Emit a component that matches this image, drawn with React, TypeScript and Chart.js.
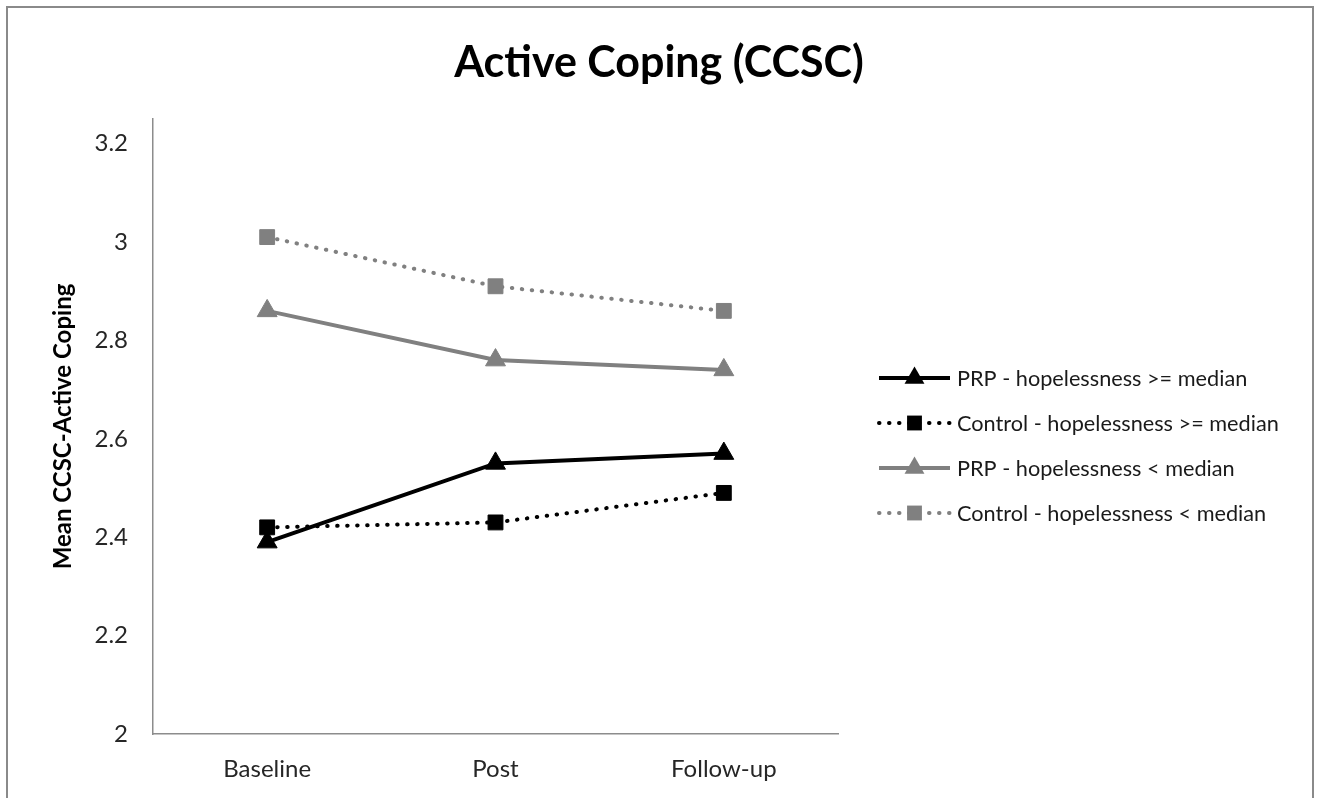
import React, { useEffect, useRef } from "react";
import { Chart, registerables } from "chart.js";

Chart.register(...registerables);

const categories = ["Baseline", "Post", "Follow-up"];
const prpHigh = [2.39, 2.55, 2.57];
const controlHigh = [2.42, 2.43, 2.49];
const prpLow = [2.86, 2.76, 2.74];
const controlLow = [3.01, 2.91, 2.86];
const seriesLabels = [
  "PRP - hopelessness >= median",
  "Control - hopelessness >= median",
  "PRP - hopelessness < median",
  "Control - hopelessness < median",
];
const yTickValues = [2, 2.2, 2.4, 2.6, 2.8, 3, 3.2];
const chartTitle = "Active Coping (CCSC)";
const yAxisTitle = "Mean CCSC-Active Coping";

const FONT = "Lato, 'Open Sans', sans-serif";
const BLACK = "#000000";
const GRAY = "#808080";

function drawMarker(ctx: CanvasRenderingContext2D, style: string, x: number, y: number, r: number, color: string) {
  ctx.fillStyle = color;
  ctx.beginPath();
  if (style === "triangle") {
    ctx.moveTo(x, y - r);
    ctx.lineTo(x + r * Math.sin((2 * Math.PI) / 3), y + r / 2);
    ctx.lineTo(x - r * Math.sin((2 * Math.PI) / 3), y + r / 2);
    ctx.closePath();
  } else {
    const s = r * Math.SQRT1_2;
    ctx.rect(x - s, y - s, 2 * s, 2 * s);
  }
  ctx.fill();
}

const sideLegendAndTitle = {
  id: "sideLegendAndTitle",
  afterDraw(chart: any) {
    const ctx: CanvasRenderingContext2D = chart.ctx;
    // title
    ctx.save();
    ctx.fillStyle = "#000";
    ctx.font = `bold 43px ${FONT}`;
    ctx.textAlign = "center";
    ctx.textBaseline = "middle";
    ctx.fillText(chartTitle, 659, 63);
    ctx.restore();

    // legend
    const x0 = 879;
    const x1 = 950;
    const tx = 957;
    const yStart = 378;
    const gap = 45;
    chart.data.datasets.forEach((ds: any, i: number) => {
      const y = yStart + i * gap;
      ctx.save();
      ctx.strokeStyle = ds.borderColor;
      ctx.lineWidth = ds.borderWidth;
      ctx.lineCap = ds.borderCapStyle || "butt";
      ctx.setLineDash(ds.borderDash || []);
      ctx.beginPath();
      ctx.moveTo(x0, y);
      ctx.lineTo(x1, y);
      ctx.stroke();
      ctx.setLineDash([]);
      drawMarker(ctx, ds.pointStyle, (x0 + x1) / 2, y, ds.pointRadius, ds.pointBackgroundColor);
      ctx.fillStyle = "#1a1a1a";
      ctx.font = `21.7px ${FONT}`;
      ctx.textAlign = "left";
      ctx.textBaseline = "middle";
      ctx.fillText(ds.label, tx, y + 1);
      ctx.restore();
    });
  },
};

export default function App() {
  const ref = useRef<HTMLCanvasElement>(null);

  useEffect(() => {
    const canvas = ref.current;
    if (!canvas) return;
    const dotted = [0.5, 9.5];
    const chart = new Chart(canvas, {
      type: "line",
      data: {
        labels: categories,
        datasets: [
          {
            label: seriesLabels[0],
            data: prpHigh,
            borderColor: BLACK,
            borderWidth: 4,
            pointStyle: "triangle",
            pointRadius: 11.5,
            pointBackgroundColor: BLACK,
            pointBorderColor: BLACK,
            pointBorderWidth: 1,
            tension: 0,
          },
          {
            label: seriesLabels[1],
            data: controlHigh,
            borderColor: BLACK,
            borderWidth: 4,
            borderDash: dotted,
            borderCapStyle: "round",
            pointStyle: "rect",
            pointRadius: 10.5,
            pointBackgroundColor: BLACK,
            pointBorderColor: BLACK,
            pointBorderWidth: 1,
            tension: 0,
          },
          {
            label: seriesLabels[2],
            data: prpLow,
            borderColor: GRAY,
            borderWidth: 4,
            pointStyle: "triangle",
            pointRadius: 11.5,
            pointBackgroundColor: GRAY,
            pointBorderColor: GRAY,
            pointBorderWidth: 1,
            tension: 0,
          },
          {
            label: seriesLabels[3],
            data: controlLow,
            borderColor: GRAY,
            borderWidth: 4,
            borderDash: dotted,
            borderCapStyle: "round",
            pointStyle: "rect",
            pointRadius: 10.5,
            pointBackgroundColor: GRAY,
            pointBorderColor: GRAY,
            pointBorderWidth: 1,
            tension: 0,
          },
        ] as any,
      },
      options: {
        responsive: false,
        animation: false,
        devicePixelRatio: 1,
        layout: { padding: { left: 0, right: 481, top: 119, bottom: 0 } },
        plugins: {
          legend: { display: false },
          tooltip: { enabled: false },
          title: { display: false },
        },
        scales: {
          x: {
            type: "category",
            offset: true,
            grid: { display: false, drawTicks: false },
            border: { display: true, color: "#8c8c8c", width: 1.5 },
            ticks: {
              color: "#262626",
              font: { family: FONT, size: 24 },
              padding: 21,
              maxRotation: 0,
            },
            afterFit(scale: any) {
              scale.height = 64;
            },
          },
          y: {
            type: "linear",
            min: 2,
            max: 3.25,
            grid: { display: false, drawTicks: false },
            border: { display: true, color: "#8c8c8c", width: 1.5 },
            ticks: {
              color: "#262626",
              font: { family: FONT, size: 24 },
              padding: 25,
              callback: (v: any) => String(parseFloat(Number(v).toFixed(1))),
            },
            afterBuildTicks(scale: any) {
              scale.ticks = yTickValues.map((v) => ({ value: v }));
            },
            afterFit(scale: any) {
              scale.width = 153;
            },
            title: {
              display: true,
              text: yAxisTitle,
              color: "#000",
              font: { family: FONT, size: 24, weight: "bold", lineHeight: 1.2 },
              padding: { top: 49, bottom: 0 },
            },
          },
        },
      } as any,
      plugins: [sideLegendAndTitle],
    });
    return () => chart.destroy();
  }, []);

  return (
    <div
      style={{
        position: "absolute",
        left: 0,
        top: 0,
        width: 1319,
        height: 798,
        overflow: "hidden",
        background: "#ffffff",
      }}
    >
      <canvas
        ref={ref}
        width={1319}
        height={798}
        style={{ position: "absolute", left: 0, top: 0, width: 1319, height: 798, display: "block" }}
      />
      <div
        style={{
          position: "absolute",
          left: 6,
          top: 6,
          width: 1308,
          height: 1000,
          border: "2px solid #8a8a8a",
          boxSizing: "border-box",
          pointerEvents: "none",
        }}
      />
    </div>
  );
}
